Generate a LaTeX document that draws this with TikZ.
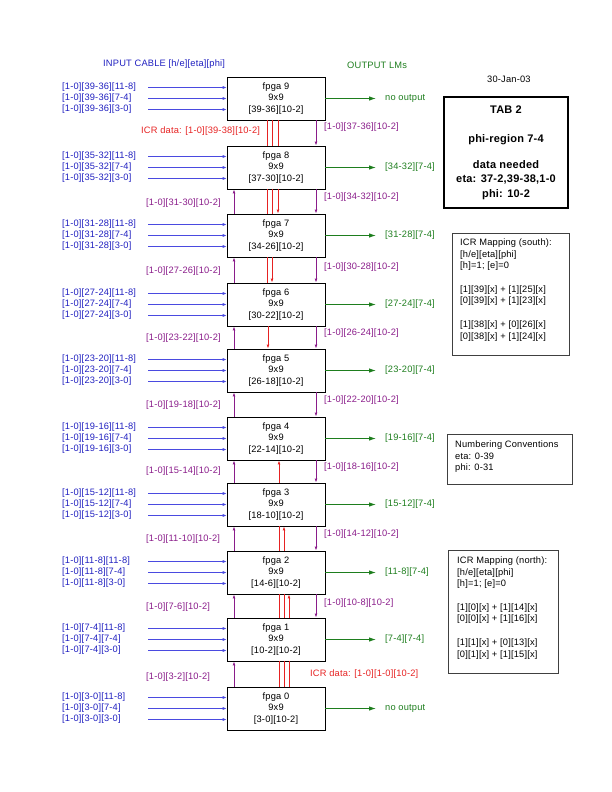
\documentclass[tikz,border=0pt]{standalone}
\usepackage{fontspec}
\setmainfont[LetterSpace=2]{Liberation Sans}
\usetikzlibrary{arrows.meta,positioning}
\definecolor{inblue}{HTML}{2020C0}
\definecolor{inline}{HTML}{4A4AE0}
\definecolor{outgreen}{HTML}{1E7E1E}
\definecolor{icrred}{HTML}{E62222}
\definecolor{shpurple}{HTML}{8A1C8A}

\begin{document}
\begin{tikzpicture}[x=1pt, y=-1pt,
      every node/.style={font=\fontsize{9.3}{11.7}\selectfont, inner sep=0pt},
      fpga/.style={draw, line width=0.7pt, minimum width=98pt, minimum height=43pt, align=center},
      inlbl/.style={text=inblue, anchor=west},
      inarr/.style={draw=inline, line width=1.4pt, -{Latex[length=4pt,width=3.2pt]}},
      outlbl/.style={text=outgreen, anchor=west},
      outarr/.style={draw=outgreen, line width=0.9pt, -{Latex[length=7pt,width=4.5pt]}},
      shlbl/.style={text=shpurple, anchor=west},
      sharr/.style={draw=shpurple, line width=0.9pt, -{Latex[length=4pt,width=2.8pt]}},
      icrlbl/.style={text=icrred, anchor=west},
      icr/.style={draw=icrred, line width=0.8pt},
      icrdn/.style={icr, -{Latex[length=4pt,width=2.8pt]}},
      icrup/.style={icr, {Latex[length=4pt,width=2.8pt]}-},
      infobox/.style={draw=black!75, line width=0.8pt, anchor=north west},
      infotext/.style={anchor=north west, align=left}]
    \useasboundingbox (0,0) rectangle (612,792);
    \node[inlbl] (inhead) at (103,64) {INPUT CABLE [h/e][eta][phi]};
    \node[outlbl] (outhead) at (347,65) {OUTPUT LMs};
    \node[anchor=west] (date) at (487,79) {30-Jan-03};
    \foreach \k/\y/\eta/\rng/\out in {9/98.5/39-36/39-36/no output, 8/167.5/35-32/37-30/{[34-32][7-4]},
        7/235.5/31-28/34-26/{[31-28][7-4]}, 6/304.5/27-24/30-22/{[27-24][7-4]}, 5/370.5/23-20/26-18/{[23-20][7-4]},
        4/438.5/19-16/22-14/{[19-16][7-4]}, 3/504.5/15-12/18-10/{[15-12][7-4]}, 2/572.5/11-8/14-6/{[11-8][7-4]},
        1/639.5/7-4/10-2/{[7-4][7-4]}, 0/708.5/3-0/3-0/no output} {
      \node[fpga] (f\k) at (276,\y) {fpga \k\\9x9\\{[\rng][10-2]}};
      \foreach \d/\ph/\j in {-11/11-8/a, 0/7-4/b, 11/3-0/c} {
        \node[inlbl] (i\k\j) at (62,\y+\d) {[1-0][\eta][\ph]};
        \coordinate (s\k\j) at (148,\y+\d);
        \draw[inarr] (s\k\j) -- (s\k\j -| f\k.west);
      }
      \node[outlbl] (o\k) at (385,\y) {\out};
      \draw[outarr] (f\k.east) -- ([xshift=-9pt]o\k.west);
    }
    \foreach \a/\b in {9/8,8/7,7/6,6/5,5/4,4/3,3/2,2/1}
      \draw[sharr] (f\a.south -| 316,0) -- (f\b.north -| 316,0);
    \foreach \a/\b in {8/7,7/6,6/5,5/4,4/3,3/2,2/1,1/0}
      \draw[sharr] (f\b.north -| 234,0) -- (f\a.south -| 234,0);
    \foreach \a/\b/\x/\st in {9/8/267/icr, 9/8/272/icr, 9/8/278/icr, 8/7/267/icr, 8/7/272/icr, 8/7/278/icrdn,
        7/6/267/icr, 7/6/272/icrdn, 6/5/268/icrdn, 4/3/279/icrup, 3/2/279/icr, 3/2/284/icrup,
        2/1/279/icr, 2/1/284/icr, 2/1/289/icrup, 1/0/279/icr, 1/0/284/icr, 1/0/289/icr}
      \draw[\st] (f\a.south -| \x,0) -- (f\b.north -| \x,0);
    \foreach \a/\y/\rng in {8/203/31-30, 7/271/27-26, 6/338/23-22, 5/405/19-18, 4/471/15-14, 3/539/11-10, 2/607/7-6, 1/677/3-2}
      \node[shlbl] (up\a) at (146,\y) {[1-0][\rng][10-2]};
    \foreach \a/\y/\rng in {9/127/37-36, 8/197/34-32, 7/267/30-28, 6/333/26-24, 5/400/22-20, 4/467/18-16, 3/534/14-12, 2/603/10-8}
      \node[shlbl] (dn\a) at (324,\y) {[1-0][\rng][10-2]};
    \node[icrlbl] (icrtop) at (141,131) {ICR data: [1-0][39-38][10-2]};
    \node[icrlbl] (icrbot) at (310,674) {ICR data: [1-0][1-0][10-2]};
    \node[draw, line width=1.5pt, minimum width=124pt, minimum height=111pt, align=center,
      font=\fontsize{11}{14.5}\selectfont\bfseries] (tab) at (506,152.5)
      {TAB 2\\[14.5pt]phi-region 7-4\\[11.5pt]data needed\\eta: 37-2,39-38,1-0\\phi: 10-2};
    \node[infobox, minimum width=117pt, minimum height=122pt] (south) at (452,233) {};
    \node[infotext] (southtxt) at (460,238.5) {ICR Mapping (south):\\{[h/e][eta][phi]}\\{[h]=1; [e]=0}\\[11.7pt]
      {[1][39][x] + [1][25][x]}\\{[0][39][x] + [1][23][x]}\\[11.7pt]{[1][38][x] + [0][26][x]}\\{[0][38][x] + [1][24][x]}};
    \node[infobox, minimum width=125pt, minimum height=50pt] (numb) at (447,434) {};
    \node[infotext] (numbtxt) at (455,440.5) {Numbering Conventions\\eta: 0-39\\phi: 0-31};
    \node[infobox, minimum width=110pt, minimum height=123pt] (north) at (448,550) {};
    \node[infotext] (northtxt) at (457,556.5) {ICR Mapping (north):\\{[h/e][eta][phi]}\\{[h]=1; [e]=0}\\[11.7pt]
      {[1][0][x] + [1][14][x]}\\{[0][0][x] + [1][16][x]}\\[11.7pt]{[1][1][x] + [0][13][x]}\\{[0][1][x] + [1][15][x]}};
  \end{tikzpicture}
\end{document}
